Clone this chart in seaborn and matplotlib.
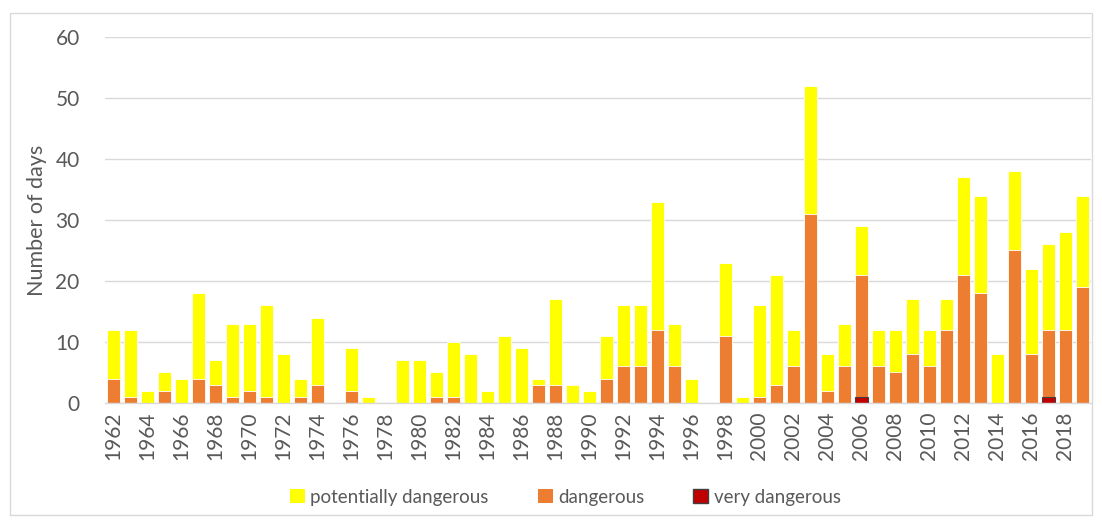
import numpy as np
import pandas as pd
import matplotlib
matplotlib.use("Agg")
import matplotlib.pyplot as plt
from matplotlib.patches import Patch, Rectangle
import seaborn as sns

years = list(range(1962, 2020))

# segments of each stacked bar (days per year)
very_dangerous = [0] * 58
very_dangerous[2006 - 1962] = 1
very_dangerous[2017 - 1962] = 1

dangerous = [4, 1, 0, 2, 0, 4, 3, 1, 2, 1, 0, 1, 3, 0, 2, 0, 0, 0, 0, 1,
             1, 0, 0, 0, 0, 3, 3, 0, 0, 4, 6, 6, 12, 6, 0, 0, 11, 0, 1, 3,
             6, 31, 2, 6, 20, 6, 5, 8, 6, 12, 21, 18, 0, 25, 8, 11, 12, 19]

potentially_dangerous = [8, 11, 2, 3, 4, 14, 4, 12, 11, 15, 8, 3, 11, 0, 7, 1, 0, 7, 7, 4,
                         9, 8, 2, 11, 9, 1, 14, 3, 2, 7, 10, 10, 21, 7, 4, 0, 12, 1, 15, 18,
                         6, 21, 6, 7, 8, 6, 7, 9, 6, 5, 16, 16, 8, 13, 14, 14, 16, 15]

df = pd.DataFrame({
    "year": [str(y) for y in years],
    "very": very_dangerous,
    "dang": dangerous,
    "pot": potentially_dangerous,
})
df["dang_cum"] = df["very"] + df["dang"]
df["total"] = df["dang_cum"] + df["pot"]

c_pot = "#FFFF00"
c_dang = "#ED7D31"
c_very = "#C00000"
grey = "#595959"

sns.set_theme(style="white")
plt.rcParams["font.family"] = ["Lato", "DejaVu Sans"]

fig = plt.figure(figsize=(11.02, 5.2), dpi=100)
ax = fig.add_axes([0.095, 0.225, 0.895, 0.704])

order = df["year"].tolist()
sns.barplot(data=df, x="year", y="total", order=order, color=c_pot,
            width=0.78, edgecolor="white", linewidth=0.6, saturation=1, ax=ax)
sns.barplot(data=df, x="year", y="dang_cum", order=order, color=c_dang,
            width=0.78, edgecolor="white", linewidth=0.6, saturation=1, ax=ax)
sns.barplot(data=df, x="year", y="very", order=order, color=c_very,
            width=0.78, edgecolor="#404040", linewidth=0.8, saturation=1, ax=ax)
# hide the zero-height very-dangerous bars' outline
for p in ax.patches[-58:]:
    if p.get_height() == 0:
        p.set_visible(False)

ax.set_ylim(0, 60)
ax.set_xlim(-0.5, 57.5)
ax.set_yticks(range(0, 61, 10))
ax.yaxis.grid(True, color="#D9D9D9", linewidth=1)
ax.set_axisbelow(True)
for s in ["left", "right", "top"]:
    ax.spines[s].set_visible(False)
ax.spines["bottom"].set_color("#D9D9D9")
ax.spines["bottom"].set_linewidth(1)

ax.set_xticks(range(0, 58, 2))
ax.set_xticklabels([str(y) for y in years[::2]], rotation=90)
ax.tick_params(axis="x", length=0, pad=6, labelsize=15, labelcolor=grey)
ax.tick_params(axis="y", length=0, pad=18, labelsize=15, labelcolor=grey)
ax.set_xlabel("")
ax.set_ylabel("Number of days", fontsize=15.5, color=grey, labelpad=6)

handles = [
    Patch(facecolor=c_pot, edgecolor="none", label="potentially dangerous"),
    Patch(facecolor=c_dang, edgecolor="none", label="dangerous"),
    Patch(facecolor=c_very, edgecolor="#404040", label="very dangerous"),
]
leg = fig.legend(handles=handles, loc="center", bbox_to_anchor=(0.513, 0.044), ncol=3,
                 frameon=False, fontsize=13.5, handlelength=0.8, handleheight=0.8,
                 handletextpad=0.3, columnspacing=2.6)
for t in leg.get_texts():
    t.set_color(grey)

fig.patches.append(Rectangle((0.009, 0.01), 0.982, 0.965, transform=fig.transFigure,
                             fill=False, edgecolor="#D9D9D9", linewidth=1))

fig.savefig("out.png", dpi=100)
